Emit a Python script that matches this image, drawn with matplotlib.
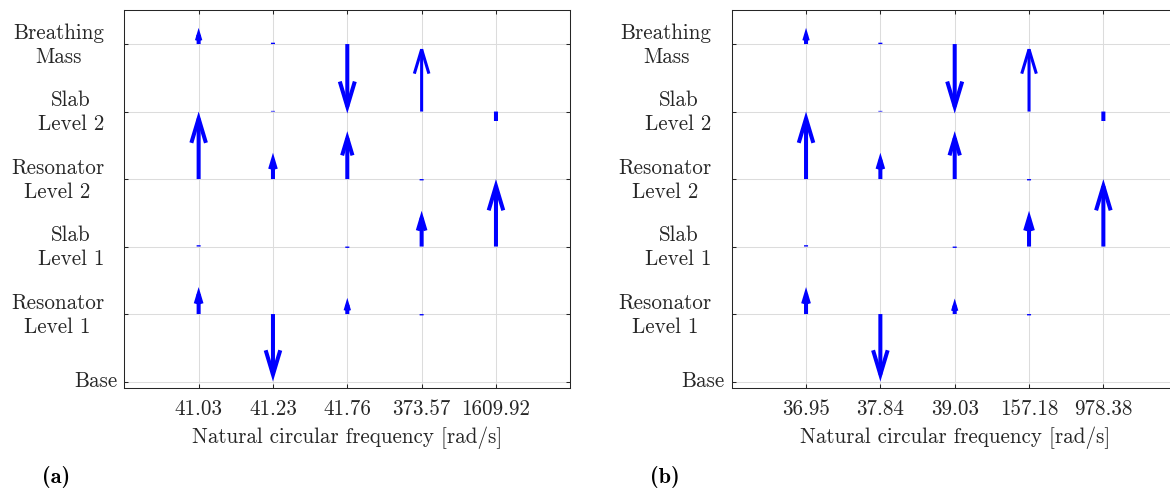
import matplotlib
matplotlib.use("Agg")
import matplotlib.pyplot as plt
from matplotlib.transforms import ScaledTranslation

# ---- data ----
levels = ["Base", "Resonator\nLevel 1", "Slab\nLevel 1", "Resonator\nLevel 2",
          "Slab\nLevel 2", "Breathing\nMass"]
freqs_a = ["41.03", "41.23", "41.76", "373.57", "1609.92"]
freqs_b = ["36.95", "37.84", "39.03", "157.18", "978.38"]

# mode shape amplitudes per mode, ordered Base .. Breathing Mass
modes_a = [
    [0.00, 0.40, 0.02, 1.00, 0.00, 0.24],
    [0.00, -1.00, 0.00, 0.39, 0.01, 0.02],
    [0.00, 0.24, -0.02, 0.71, 0.00, -1.03],
    [0.00, -0.02, 0.53, -0.02, 1.00, 0.00],
    [0.00, 0.00, 1.00, 0.00, -0.14, 0.00],
]
modes_b = [
    [0.00, 0.40, 0.02, 1.00, 0.00, 0.24],
    [0.00, -1.00, 0.00, 0.39, 0.01, 0.02],
    [0.00, 0.23, -0.02, 0.71, 0.00, -1.03],
    [0.00, -0.02, 0.53, -0.02, 1.00, 0.00],
    [0.00, 0.00, 1.00, 0.00, -0.14, 0.00],
]
panel_labels = ["(a)", "(b)"]
xlabel = "Natural circular frequency [rad/s]"

plt.rcParams['font.family'] = ['cmr10', 'Liberation Serif', 'DejaVu Serif']
plt.rcParams['axes.unicode_minus'] = False
DPI = 100
fig = plt.figure(figsize=(11.70, 4.91), dpi=DPI)

W, H = 1170.0, 491.0
ax_w = 446.0
ax_top, ax_bot = 10.3, 388.3
lefts = [124.3, 731.7]
label_x = [42, 650]

TXT = '#262626'
UNIT_PX = 67.48  # pixel size of one y unit
FS = 15.2


def draw_panel(ax, modes, freqs):
    ax.set_xlim(0, 6)
    ax.set_ylim(-0.1, 5.5)
    ax.set_xticks(range(1, len(freqs) + 1))
    ax.set_xticklabels(freqs)
    ax.set_yticks(range(len(levels)))
    ax.set_yticklabels(levels, multialignment='center', linespacing=1.3)
    ax.grid(True, color='#dcdcdc', lw=0.75)
    ax.set_axisbelow(True)
    ax.tick_params(axis='both', direction='in', length=3, width=0.75,
                   colors=TXT, labelsize=FS, top=True, right=True)
    ax.tick_params(axis='x', pad=8)
    ax.tick_params(axis='y', pad=14.5)
    for s in ax.spines.values():
        s.set_color(TXT)
        s.set_linewidth(0.75)
    ax.set_xlabel(xlabel, fontsize=FS, color=TXT, labelpad=5.5)
    # fine placement of the level labels (Base sits closer to the axis)
    for n, lbl in enumerate(ax.get_yticklabels()):
        dx = 13 if n == 0 else 0
        dy = 2 if n == 0 else 3.5
        lbl.set_transform(lbl.get_transform() +
                          ScaledTranslation(dx / DPI, dy / DPI, fig.dpi_scale_trans))

    for i, shape in enumerate(modes):
        x = i + 1
        for j, v in enumerate(shape):
            if v == 0:
                continue
            lpx = abs(v) * UNIT_PX
            if lpx < 12:
                style = '-'
            else:
                hl = 0.36 * lpx * 0.72
                hw = 0.30 * hl
                style = f'->,head_length={hl:.2f},head_width={hw:.2f}'
            lw = 2.2 if (i == 3 and j == 4) else 2.9
            ax.annotate('', xy=(x, j + v), xytext=(x, j),
                        arrowprops=dict(arrowstyle=style, color='blue', lw=lw,
                                        shrinkA=0, shrinkB=0, mutation_scale=1,
                                        joinstyle='miter', capstyle='butt'),
                        annotation_clip=False)


for k, (modes, freqs) in enumerate([(modes_a, freqs_a), (modes_b, freqs_b)]):
    ax = fig.add_axes([lefts[k] / W, 1 - ax_bot / H, ax_w / W, (ax_bot - ax_top) / H])
    draw_panel(ax, modes, freqs)
    fig.text(label_x[k] / W, 1 - 477 / H, panel_labels[k], fontsize=16,
             family=['cmb10', 'DejaVu Serif'], va='center', ha='left',
             color='black')

fig.savefig("out.png", dpi=DPI)
